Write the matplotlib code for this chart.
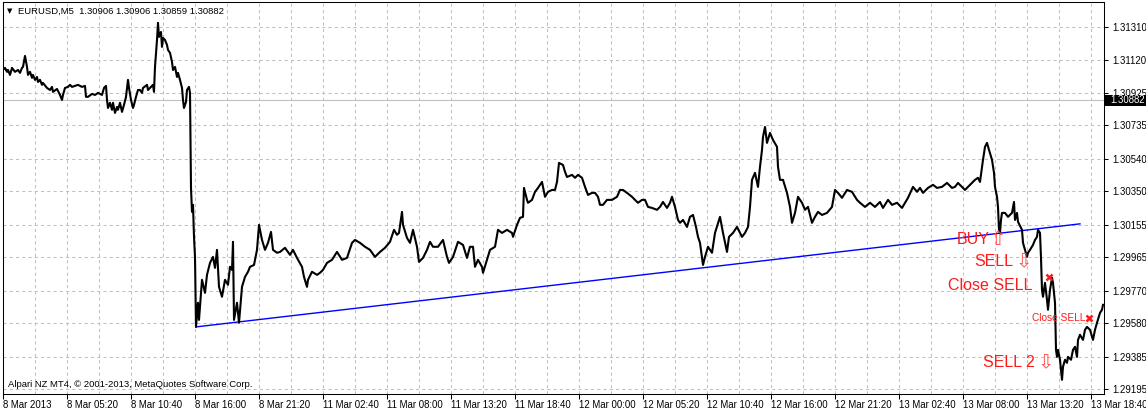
import matplotlib
matplotlib.use('Agg')
import matplotlib.pyplot as plt
import matplotlib.transforms as mtrans
from matplotlib.patches import Rectangle

# EURUSD M5 closes (bar index from 8 Mar 00:00)
bars = [0, 2, 4, 5, 7, 9, 12, 15, 17, 19, 20, 22, 24, 25, 27, 29, 30, 32, 34, 35,
        37, 39, 40, 44, 47, 49, 50, 54, 57, 59, 60, 62, 65, 67, 69, 72, 75, 79, 82, 83,
        85, 89, 92, 95, 99, 101, 103, 104, 105, 107, 109, 110, 112, 114, 115, 117, 119, 121, 123, 125,
        126, 128, 130, 131, 133, 135, 137, 139, 140, 144, 145, 148, 150, 151, 152, 154, 155, 156, 158, 159,
        160, 162, 164, 165, 167, 169, 170, 172, 174, 175, 177, 179, 180, 181, 183, 184, 186, 187, 188, 189,
        190, 191, 192, 193, 195, 196, 199, 202, 204, 207, 210, 212, 214, 216, 219, 222, 225, 227, 229, 230,
        231, 234, 236, 239, 242, 245, 247, 251, 254, 256, 259, 262, 265, 268, 270, 274, 277, 282, 287, 290,
        294, 299, 301, 304, 305, 309, 314, 317, 320, 324, 329, 334, 339, 344, 349, 352, 357, 362, 367, 372,
        377, 382, 387, 391, 394, 396, 399, 400, 404, 407, 410, 414, 416, 420, 424, 427, 430, 435, 440, 444,
        446, 450, 455, 460, 464, 467, 470, 472, 475, 479, 480, 484, 487, 492, 495, 499, 504, 509, 510, 514,
        517, 520, 521, 524, 525, 529, 532, 535, 539, 542, 545, 549, 552, 554, 556, 560, 562, 564, 569, 572,
        575, 579, 582, 585, 589, 592, 595, 597, 600, 604, 609, 614, 617, 620, 624, 629, 632, 635, 639, 642,
        645, 649, 654, 657, 660, 664, 667, 669, 672, 675, 677, 680, 684, 687, 690, 693, 695, 697, 700, 702,
        705, 709, 712, 717, 720, 724, 726, 730, 734, 739, 742, 745, 747, 749, 752, 755, 757, 759, 760, 762,
        764, 767, 770, 774, 775, 777, 780, 784, 787, 789, 792, 795, 799, 802, 805, 809, 812, 815, 819, 824,
        829, 832, 835, 839, 844, 849, 854, 857, 862, 867, 872, 877, 880, 885, 889, 894, 899, 902, 905, 910,
        914, 917, 920, 925, 930, 934, 939, 944, 949, 952, 955, 959, 962, 965, 969, 972, 975, 977, 980, 982,
        984, 986, 989, 991, 992, 994, 995, 996, 997, 998, 999, 1002, 1005, 1009, 1011, 1012, 1014, 1015, 1019, 1020,
        1022, 1024, 1025, 1027, 1030, 1032, 1034, 1035, 1037, 1038, 1039, 1040, 1042, 1044, 1045, 1047, 1049, 1050, 1052, 1053,
        1054, 1055, 1057, 1059, 1060, 1062, 1064, 1065, 1068, 1070, 1072, 1074, 1075, 1077, 1080, 1082, 1084, 1087, 1090, 1092,
        1094, 1097, 1099, 1100]
closes = [1.31059, 1.31071, 1.31048, 1.31059, 1.31030, 1.31071, 1.31048, 1.31059, 1.31042, 1.31071,
          1.31077, 1.31141, 1.31077, 1.31030, 1.31048, 1.31013, 1.31030, 1.31001, 1.31018, 1.30989,
          1.31001, 1.30972, 1.30983, 1.30954, 1.30942, 1.30960, 1.30931, 1.30948, 1.30913, 1.30884,
          1.30913, 1.30954, 1.30960, 1.30972, 1.30960, 1.30966, 1.30972, 1.30960, 1.30966, 1.30902,
          1.30902, 1.30919, 1.30913, 1.30925, 1.30913, 1.30954, 1.30966, 1.30884, 1.30837, 1.30867,
          1.30826, 1.30867, 1.30808, 1.30843, 1.30826, 1.30867, 1.30814, 1.30855, 1.30902, 1.31001,
          1.30954, 1.30884, 1.30837, 1.30855, 1.30902, 1.30942, 1.30942, 1.30925, 1.30954, 1.30972,
          1.30942, 1.30960, 1.30972, 1.30931, 1.31077, 1.31234, 1.31334, 1.31252, 1.31281, 1.31194,
          1.31246, 1.31234, 1.31205, 1.31176, 1.31159, 1.31106, 1.31059, 1.31077, 1.31018, 1.31042,
          1.31001, 1.30954, 1.30884, 1.30837, 1.30872, 1.30942, 1.30960, 1.30925, 1.30370, 1.30230,
          1.30271, 1.30084, 1.29967, 1.29558, 1.29699, 1.29599, 1.29833, 1.29757, 1.29862, 1.29932,
          1.29967, 1.29903, 1.30008, 1.29792, 1.29734, 1.29833, 1.29804, 1.29909, 1.29891, 1.30055,
          1.29599, 1.29699, 1.29582, 1.29792, 1.29850, 1.29880, 1.29909, 1.29920, 1.30008, 1.30154,
          1.30066, 1.30008, 1.30049, 1.30113, 1.30008, 1.29991, 1.29996, 1.30020, 1.29979, 1.30008,
          1.29961, 1.29909, 1.29850, 1.29792, 1.29833, 1.29880, 1.29862, 1.29874, 1.29891, 1.29932,
          1.29950, 1.29996, 1.29950, 1.29961, 1.30049, 1.30066, 1.30049, 1.30026, 1.30008, 1.29967,
          1.29996, 1.30020, 1.30055, 1.30125, 1.30096, 1.30107, 1.30230, 1.30154, 1.30078, 1.30049,
          1.30125, 1.30026, 1.29938, 1.29961, 1.30008, 1.30055, 1.30026, 1.30026, 1.30066, 1.29967,
          1.29932, 1.29967, 1.30055, 1.30037, 1.29961, 1.30026, 1.30026, 1.29909, 1.29950, 1.29909,
          1.29874, 1.29950, 1.30008, 1.30026, 1.30125, 1.30107, 1.30125, 1.30107, 1.30084, 1.30154,
          1.30195, 1.30201, 1.30370, 1.30300, 1.30283, 1.30300, 1.30347, 1.30370, 1.30405, 1.30318,
          1.30347, 1.30358, 1.30358, 1.30405, 1.30516, 1.30504, 1.30464, 1.30434, 1.30446, 1.30429,
          1.30446, 1.30429, 1.30376, 1.30329, 1.30341, 1.30341, 1.30318, 1.30271, 1.30271, 1.30300,
          1.30300, 1.30318, 1.30358, 1.30358, 1.30341, 1.30318, 1.30300, 1.30283, 1.30300, 1.30300,
          1.30259, 1.30253, 1.30242, 1.30259, 1.30288, 1.30253, 1.30283, 1.30318, 1.30259, 1.30183,
          1.30166, 1.30183, 1.30142, 1.30201, 1.30212, 1.30142, 1.30084, 1.30049, 1.29920, 1.29967,
          1.30026, 1.29991, 1.30107, 1.30201, 1.30107, 1.29996, 1.30084, 1.30107, 1.30142, 1.30084,
          1.30107, 1.30142, 1.30259, 1.30417, 1.30458, 1.30376, 1.30493, 1.30592, 1.30668, 1.30726,
          1.30633, 1.30691, 1.30650, 1.30610, 1.30493, 1.30417, 1.30417, 1.30341, 1.30259, 1.30166,
          1.30224, 1.30318, 1.30283, 1.30242, 1.30259, 1.30166, 1.30201, 1.30230, 1.30212, 1.30224,
          1.30259, 1.30358, 1.30341, 1.30312, 1.30358, 1.30347, 1.30300, 1.30283, 1.30259, 1.30283,
          1.30259, 1.30288, 1.30253, 1.30300, 1.30271, 1.30283, 1.30253, 1.30283, 1.30312, 1.30376,
          1.30347, 1.30370, 1.30341, 1.30370, 1.30388, 1.30370, 1.30376, 1.30399, 1.30370, 1.30376,
          1.30399, 1.30376, 1.30358, 1.30376, 1.30399, 1.30417, 1.30429, 1.30405, 1.30534, 1.30610,
          1.30633, 1.30592, 1.30534, 1.30458, 1.30376, 1.30318, 1.30259, 1.30125, 1.30107, 1.30183,
          1.30224, 1.30224, 1.30201, 1.30224, 1.30288, 1.30183, 1.30224, 1.30172, 1.30125, 1.30049,
          1.30008, 1.29967, 1.29991, 1.30008, 1.30037, 1.30066, 1.30084, 1.30125, 1.30107, 1.29961,
          1.29774, 1.29734, 1.29815, 1.29716, 1.29658, 1.29774, 1.29845, 1.29815, 1.29699, 1.29424,
          1.29383, 1.29424, 1.29366, 1.29249, 1.29325, 1.29366, 1.29348, 1.29383, 1.29366, 1.29424,
          1.29442, 1.29383, 1.29482, 1.29512, 1.29482, 1.29541, 1.29558, 1.29541, 1.29482, 1.29541,
          1.29582, 1.29640, 1.29658, 1.29687]

trend_bars = [193, 1077]
trend_prices = [1.29558, 1.30160]

current_price = 1.30882
header = "EURUSD,M5  1.30906 1.30906 1.30859 1.30882"

price_ticks = [1.31310, 1.31120, 1.30925, 1.30735, 1.30540, 1.30350,
               1.30155, 1.29965, 1.29770, 1.29580, 1.29385, 1.29195]
time_ticks = [0, 64, 128, 192, 256, 320, 384, 448, 512, 576, 640, 704,
              768, 832, 896, 960, 1024, 1088]
time_labels = ['8 Mar 2013', '8 Mar 05:20', '8 Mar 10:40', '8 Mar 16:00', '8 Mar 21:20',
               '11 Mar 02:40', '11 Mar 08:00', '11 Mar 13:20', '11 Mar 18:40',
               '12 Mar 00:00', '12 Mar 05:20', '12 Mar 10:40', '12 Mar 16:00',
               '12 Mar 21:20', '13 Mar 02:40', '13 Mar 08:00', '13 Mar 13:20', '13 Mar 18:40']
grid_bars = [32, 96, 160, 224, 288, 352, 416, 480, 544, 608, 672, 736, 800, 864, 928, 992, 1056]

# trade labels: text, bar where the text ends, price
signal_texts = ['BUY', 'SELL', 'Close SELL', 'SELL 2']
signal_bars = [987, 1010, 1030, 1032]
signal_prices = [1.30066, 1.29938, 1.29798, 1.29350]
arrow_glyphs = ['\u21e7', '\u21e9', '\u21e9']
arrow_bars = [995, 1021, 1043]
arrow_prices = [1.30066, 1.29938, 1.29350]
close_bars = [1046, 1086]
close_prices = [1.29850, 1.29609]

W, H = 1146, 411
fig = plt.figure(figsize=(W / 100, H / 100), dpi=100, facecolor='white')
ax = fig.add_axes([2.5 / W, 17.5 / H, 1101 / W, 391 / H])
ax.set_xlim(-0.5, 1100.5)
ax.set_ylim(1.29169, 1.31453)

font = 'Liberation Sans'
grid_kw = dict(color='#c0c0c0', lw=0.75, ls=(0, (3, 3)))

# grid
ax.set_yticks(price_ticks, labels=['%.5f' % p for p in price_ticks])
ax.set_xticks(time_ticks, labels=time_labels)
ax.set_xticks(grid_bars, minor=True)
ax.grid(True, which='both', **grid_kw)
ax.set_axisbelow(True)

ax.axhline(current_price, color='#c0c0c0', lw=0.8, zorder=1)
ax.plot(trend_bars, trend_prices, color='#0000ff', lw=1.0, zorder=2)
ax.plot(bars, closes, color='black', lw=1.5, zorder=3)

# axis styling (MT4 look)
ax.yaxis.tick_right()
ax.tick_params(axis='y', direction='out', length=3, width=0.75, pad=3,
               labelsize=6.9, labelcolor='black')
ax.tick_params(axis='x', which='major', direction='out', length=3.5, width=0.75,
               pad=1.5, labelsize=6.9)
ax.tick_params(axis='x', which='minor', length=0)
for lab in ax.get_xticklabels():
    lab.set_horizontalalignment('left')
    lab.set_fontfamily(font)
for lab in ax.get_yticklabels():
    lab.set_fontfamily(font)
for sp in ax.spines.values():
    sp.set_linewidth(0.75)
    sp.set_color('black')

# current price tag on the price scale
tag_tr = mtrans.blended_transform_factory(fig.transFigure, ax.transData)
ax.add_patch(Rectangle((1104 / W, current_price - 0.00032), 42 / W, 0.00064,
                       transform=tag_tr, facecolor='black', edgecolor='none',
                       clip_on=False, zorder=10))
ax.text(1110 / W, current_price, '%.5f' % current_price, transform=tag_tr,
        color='white', fontsize=6.9, family=font, ha='left', va='center',
        clip_on=False, zorder=11)

# trade signals
for txt, b, p in zip(signal_texts, signal_bars, signal_prices):
    ax.text(b, p, txt, color='#ff1a1a', fontsize=11.5, family=font,
            ha='right', va='center', zorder=5)
ax.text(1082, 1.29609, 'Close SELL', color='#ff1a1a', fontsize=7.3, family=font,
        ha='right', va='center', zorder=5)
for g, b, p in zip(arrow_glyphs, arrow_bars, arrow_prices):
    ax.text(b, p, g, color='#ff5050', fontsize=14, family='DejaVu Sans',
            ha='center', va='center', zorder=5)
ax.plot(close_bars, close_prices, ls='none', marker='x', color='#ff1a1a',
        ms=5, mew=1.8, zorder=6)

# header and copyright
fig.text(10 / W, 1 - 11 / H, '\u25bc', fontsize=5, family='DejaVu Sans',
         ha='center', va='center', color='black')
fig.text(18 / W, 1 - 11 / H, header, fontsize=6.8, family=font,
         ha='left', va='center', color='black')
fig.text(8 / W, 1 - 384 / H, 'Alpari NZ MT4, \u00a9 2001-2013, MetaQuotes Software Corp.',
         fontsize=6.8, family=font, ha='left', va='center', color='black')

fig.savefig('out.png', dpi=100, facecolor='white')
